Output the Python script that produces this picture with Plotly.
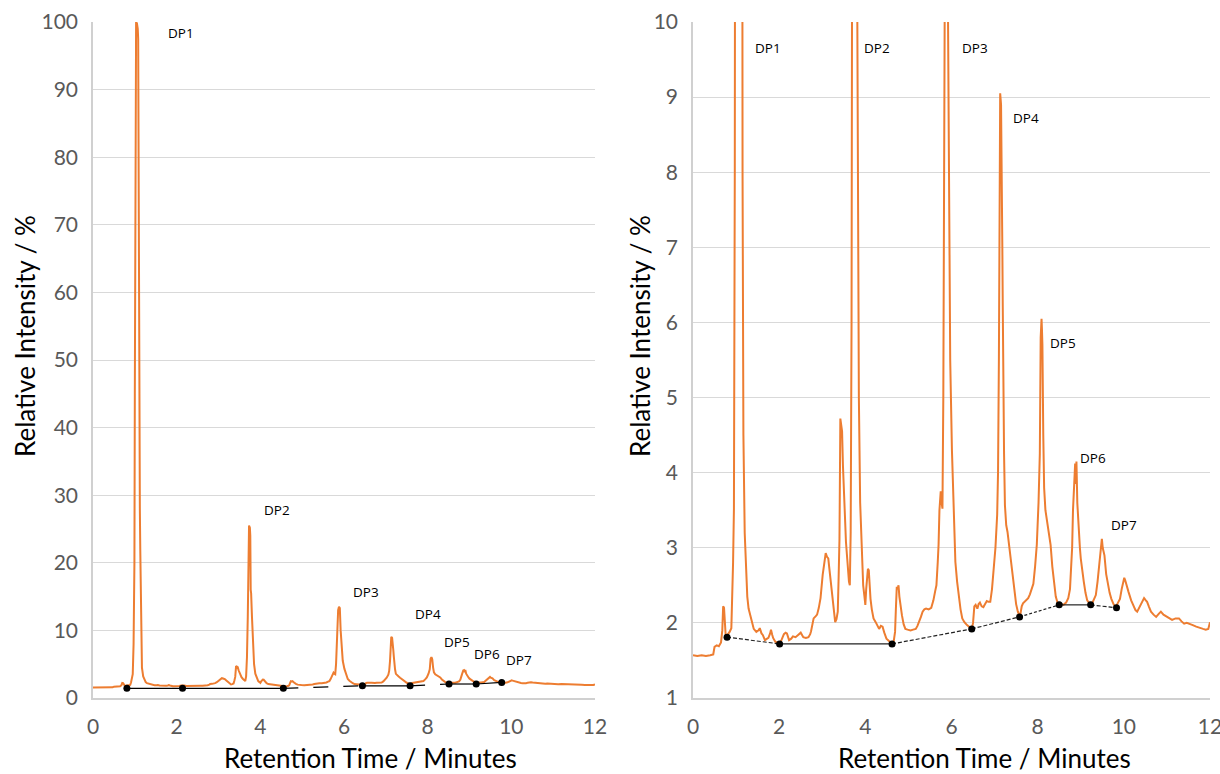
import plotly.graph_objects as go

# Retention time (minutes) and relative intensity (%)
time_min = [0.00,0.10,0.20,0.30,0.40,0.47,0.50,0.55,0.60,0.65,0.68,0.70,0.72,0.74,0.76,0.80,0.85,0.89,0.91,0.93,
 0.95,0.97,0.99,1.00,1.01,1.02,1.03,1.05,1.07,1.08,1.09,1.10,1.11,1.12,1.13,1.15,1.17,1.20,1.23,1.26,
 1.29,1.35,1.41,1.47,1.52,1.55,1.59,1.62,1.67,1.72,1.75,1.79,1.81,1.84,1.86,1.91,1.96,2.01,2.06,2.11,
 2.15,2.18,2.23,2.28,2.32,2.38,2.44,2.50,2.56,2.62,2.68,2.72,2.74,2.78,2.80,2.85,2.88,2.92,2.96,3.01,
 3.05,3.08,3.11,3.14,3.16,3.18,3.21,3.24,3.27,3.30,3.33,3.36,3.38,3.40,3.42,3.44,3.46,3.48,3.50,3.53,
 3.55,3.58,3.60,3.62,3.64,3.66,3.68,3.70,3.72,3.73,3.75,3.76,3.77,3.78,3.80,3.82,3.85,3.88,3.90,3.93,
 3.95,3.98,4.00,4.02,4.04,4.06,4.08,4.10,4.12,4.15,4.19,4.24,4.28,4.32,4.36,4.40,4.44,4.49,4.53,4.57,
 4.62,4.66,4.69,4.71,4.73,4.75,4.77,4.79,4.81,4.85,4.89,4.93,4.98,5.05,5.11,5.17,5.21,5.25,5.29,5.33,
 5.37,5.41,5.47,5.53,5.58,5.62,5.65,5.68,5.70,5.72,5.75,5.77,5.79,5.81,5.83,5.86,5.88,5.90,5.92,5.94,
 5.97,6.01,6.04,6.07,6.09,6.13,6.17,6.21,6.25,6.30,6.36,6.42,6.47,6.50,6.53,6.56,6.60,6.63,6.66,6.70,
 6.74,6.78,6.82,6.86,6.90,6.94,6.98,7.02,7.06,7.08,7.10,7.12,7.13,7.15,7.16,7.17,7.18,7.19,7.20,7.22,
 7.24,7.27,7.30,7.34,7.38,7.42,7.46,7.50,7.54,7.58,7.60,7.63,7.66,7.70,7.74,7.78,7.82,7.86,7.90,7.94,
 7.98,8.02,8.05,8.07,8.09,8.10,8.11,8.13,8.15,8.18,8.22,8.26,8.30,8.34,8.38,8.42,8.46,8.50,8.55,8.60,
 8.66,8.71,8.75,8.78,8.80,8.82,8.85,8.87,8.89,8.90,8.92,8.95,8.98,9.00,9.04,9.07,9.11,9.15,9.20,9.23,
 9.28,9.35,9.39,9.43,9.46,9.49,9.51,9.53,9.55,9.59,9.63,9.67,9.71,9.76,9.81,9.86,9.91,9.95,9.99,10.01,
 10.03,10.07,10.11,10.17,10.23,10.27,10.31,10.35,10.39,10.43,10.47,10.51,10.54,10.58,10.63,10.69,10.75,10.81,10.86,10.92,
 11.00,11.06,11.12,11.20,11.28,11.34,11.40,11.46,11.52,11.60,11.68,11.76,11.84,11.90,11.96,12.00]

intensity = [1.57,1.56,1.57,1.56,1.57,1.58,1.68,1.70,1.69,1.74,1.90,2.22,2.20,2.05,1.82,1.84,1.88,1.93,2.32,2.8,
 3.52,8.0,20.0,45.0,62.0,75.0,100.0,99.8,99.0,97.5,66.0,65.0,58.0,28.0,22.0,8.0,4.5,3.2,2.64,2.35,
 2.19,2.06,1.92,1.88,1.90,1.93,1.86,1.84,1.77,1.79,1.80,1.86,1.91,1.84,1.80,1.75,1.73,1.72,1.78,1.85,
 1.87,1.86,1.77,1.79,1.82,1.81,1.84,1.87,1.81,1.80,1.81,1.85,1.89,1.98,2.06,2.09,2.11,2.20,2.33,2.64,
 2.85,2.93,2.88,2.86,2.75,2.64,2.45,2.32,2.10,2.01,2.05,2.15,2.60,3.12,4.72,4.60,4.55,4.10,3.75,3.30,
 3.08,2.85,2.68,2.55,2.50,3.21,6.0,12.0,20.0,25.5,25.2,24.0,16.0,15.5,12.0,8.0,5.0,3.6,3.21,2.70,
 2.50,2.35,2.24,2.45,2.59,2.72,2.70,2.50,2.32,2.18,2.06,2.01,1.96,1.92,1.96,1.95,1.87,1.79,1.77,1.75,
 1.72,1.76,1.88,2.20,2.48,2.45,2.50,2.35,2.24,2.10,1.98,1.92,1.91,1.90,1.91,1.92,1.96,2.01,2.08,2.15,
 2.18,2.19,2.18,2.20,2.30,2.42,2.50,2.80,3.04,3.50,3.75,3.60,3.52,5.0,9.0,13.0,13.5,13.3,10.0,7.3,
 5.5,4.3,3.61,3.10,2.81,2.55,2.32,2.18,2.06,2.01,1.97,1.94,1.92,2.00,2.22,2.24,2.19,2.25,2.27,2.22,
 2.21,2.25,2.29,2.28,2.28,2.45,2.68,3.00,3.44,4.0,5.5,7.5,9.05,8.9,7.6,8.0,7.0,6.2,5.0,4.25,
 3.57,3.30,3.21,3.00,2.80,2.60,2.41,2.25,2.15,2.09,2.12,2.22,2.26,2.28,2.30,2.33,2.38,2.45,2.52,2.75,
 3.04,3.60,4.25,5.80,6.05,5.90,5.70,4.50,3.80,3.50,3.35,3.20,3.04,2.75,2.50,2.35,2.27,2.24,2.25,2.24,
 2.27,2.33,2.45,2.70,3.00,3.50,4.06,4.12,3.85,4.15,3.60,3.21,3.00,2.86,2.65,2.55,2.40,2.30,2.26,2.25,
 2.28,2.37,2.55,2.77,3.00,3.12,3.00,2.95,2.90,2.65,2.50,2.40,2.32,2.25,2.21,2.26,2.32,2.45,2.59,2.60,
 2.57,2.48,2.41,2.30,2.21,2.17,2.15,2.20,2.24,2.30,2.33,2.30,2.28,2.22,2.15,2.11,2.08,2.12,2.15,2.11,
 2.08,2.06,2.04,2.06,2.06,2.02,1.99,2.00,1.99,1.97,1.95,1.93,1.92,1.91,1.92,2.01]

# Baseline anchor points (left panel, right panel)
base_left_t = [0.81, 2.14, 4.55, 6.44, 7.58, 8.51, 9.16, 9.77]
base_left_v = [1.43, 1.43, 1.43, 1.80, 1.80, 2.07, 2.07, 2.30]
base_left_dash = ["solid", "solid", "longdash", "solid", "longdash", "solid", "solid"]

base_right_t = [0.79, 2.01, 4.62, 6.47, 7.58, 8.50, 9.23, 9.83]
base_right_v = [1.81, 1.72, 1.72, 1.92, 2.08, 2.24, 2.24, 2.20]
base_right_dash = ["4px,2px", "solid", "4px,2px", "4px,2px", "3px,2px", "solid", "4px,2px"]

peak_labels = ["DP1", "DP2", "DP3", "DP4", "DP5", "DP6", "DP7"]
label_left_t = [2.1, 4.4, 6.53, 8.0, 8.7, 9.42, 10.18]
label_left_v = [98.4, 27.8, 15.7, 12.4, 8.3, 6.5, 5.6]
label_right_t = [1.74, 4.27, 6.55, 7.73, 8.59, 9.28, 10.0]
label_right_v = [9.65, 9.65, 9.65, 8.72, 5.73, 4.2, 3.3]

ORANGE = "#ED7D31"
W, H = 1220, 774

fig = go.Figure()
for xa, ya in [("x", "y"), ("x2", "y2")]:
    fig.add_trace(go.Scatter(x=time_min, y=intensity, mode="lines",
                             line=dict(color=ORANGE, width=2), xaxis=xa, yaxis=ya,
                             showlegend=False, hoverinfo="skip"))

def add_baseline(ts, vs, dashes, xa, ya, color):
    for i in range(len(ts) - 1):
        fig.add_trace(go.Scatter(x=ts[i:i + 2], y=vs[i:i + 2], mode="lines",
                                 line=dict(color=color, width=1.2, dash=dashes[i]),
                                 xaxis=xa, yaxis=ya, showlegend=False, hoverinfo="skip"))
    fig.add_trace(go.Scatter(x=ts, y=vs, mode="markers",
                             marker=dict(color="black", size=7), xaxis=xa, yaxis=ya,
                             showlegend=False, hoverinfo="skip"))

add_baseline(base_left_t, base_left_v, base_left_dash, "x", "y", "black")
add_baseline(base_right_t, base_right_v, base_right_dash, "x2", "y2", "#222222")

label_font = dict(family="Open Sans", size=13.5, color="black")
annotations = []
for lab, t, v in zip(peak_labels, label_left_t, label_left_v):
    annotations.append(dict(x=t, y=v, xref="x", yref="y", text=lab, showarrow=False,
                            xanchor="center", yanchor="middle", font=label_font))
for lab, t, v in zip(peak_labels, label_right_t, label_right_v):
    annotations.append(dict(x=t, y=v, xref="x2", yref="y2", text=lab, showarrow=False,
                            xanchor="center", yanchor="middle", font=label_font))

title_font = dict(family="Lato", size=26, color="black")
titles = [
    (370, 758, "Retention Time / Minutes", 0),
    (985, 758, "Retention Time / Minutes", 0),
    (25, 336, "Relative Intensity / %", -90),
    (640, 336, "Relative Intensity / %", -90),
]
for px, py, txt, ang in titles:
    annotations.append(dict(x=px / W, y=1 - py / H, xref="paper", yref="paper", text=txt,
                            showarrow=False, textangle=ang, xanchor="center",
                            yanchor="middle", font=title_font))

tick_font = dict(family="Lato", size=21, color="#595959")
xcommon = dict(range=[0, 12], dtick=2, tick0=0, showgrid=False, zeroline=False,
               showline=True, linecolor="#d0d0d0", linewidth=1.5, ticks="",
               tickfont=tick_font, ticklabelstandoff=9, automargin=False,
               ticklabeloverflow="allow")
ycommon = dict(showgrid=True, gridcolor="#d9d9d9", gridwidth=1, zeroline=False,
               showline=True, linecolor="#d0d0d0", linewidth=1.5, ticks="",
               tickfont=tick_font, ticklabelstandoff=9, automargin=False,
               ticklabeloverflow="allow")

ydom = [1 - 698 / H, 1 - 22 / H]
fig.update_layout(
    width=W, height=H, margin=dict(l=0, r=0, t=0, b=0, autoexpand=False),
    paper_bgcolor="white", plot_bgcolor="white",
    xaxis=dict(domain=[93 / W, 595 / W], anchor="y", **xcommon),
    yaxis=dict(domain=ydom, anchor="x", range=[0, 100], dtick=10, **ycommon),
    xaxis2=dict(domain=[693 / W, 1210 / W], anchor="y2", **xcommon),
    yaxis2=dict(domain=ydom, anchor="x2", range=[1, 10], dtick=1, **ycommon),
    annotations=annotations,
)

fig.write_html("out.html")
